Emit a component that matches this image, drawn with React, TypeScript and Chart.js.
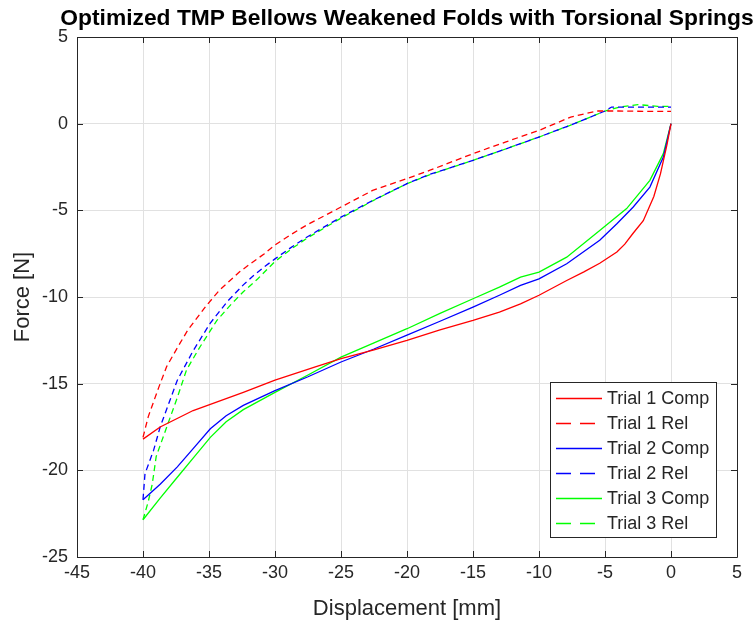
import React, { useEffect, useRef } from "react";
import { Chart, registerables } from "chart.js";

Chart.register(...registerables);

// ---------- Data ----------
const chartTitle = "Optimized TMP Bellows Weakened Folds with Torsional Springs";
const xAxisTitle = "Displacement [mm]";
const yAxisTitle = "Force [N]";

const xMin = -45;
const xMax = 5;
const xStep = 5;
const yMin = -25;
const yMax = 5;
const yStep = 5;

const seriesLabels = ["Trial 1 Comp", "Trial 1 Rel", "Trial 2 Comp", "Trial 2 Rel", "Trial 3 Comp", "Trial 3 Rel"];
const seriesColors = ["#ff0000", "#ff0000", "#0000ff", "#0000ff", "#00ff00", "#00ff00"];
const seriesDashed = [false, true, false, true, false, true];

const t1CompX = [0, -0.3, -0.8, -1.3, -2.1, -2.9, -3.5, -4.1, -5.4, -6.6, -7.9, -10, -11.4, -13, -15, -17.5, -20, -22.5, -25, -27, -30, -32.4, -34.9, -36.2, -38.7, -40];
const t1CompY = [0, -1.2, -2.9, -4.2, -5.6, -6.35, -6.95, -7.4, -8.05, -8.55, -9.05, -9.9, -10.4, -10.87, -11.35, -11.9, -12.5, -13.05, -13.56, -14.05, -14.8, -15.5, -16.2, -16.55, -17.5, -18.2];

const t1RelX = [-40, -39.6, -38.8, -38.2, -37.3, -36.6, -35.2, -34.2, -32.7, -31.9, -30.8, -30, -28.8, -27.6, -25, -22.6, -20, -18.3, -15, -12.5, -10, -7.6, -5.6, -4, -2, 0];
const t1RelY = [-18.1, -16.9, -15.2, -14.0, -12.8, -11.9, -10.5, -9.6, -8.56, -8.1, -7.5, -7.0, -6.4, -5.85, -4.81, -3.85, -3.17, -2.7, -1.73, -1.05, -0.39, 0.38, 0.73, 0.73, 0.71, 0.71];

const t2CompX = [0, -0.58, -1.6, -2.86, -4.1, -5.4, -7.9, -10, -11.4, -13, -15, -17.5, -20, -22.5, -25, -27.5, -30, -32.4, -33.7, -34.9, -36.2, -37.4, -38.7, -40];
const t2CompY = [0, -1.93, -3.66, -4.81, -5.77, -6.73, -8.08, -8.95, -9.33, -9.9, -10.58, -11.4, -12.2, -13.0, -13.75, -14.6, -15.4, -16.25, -16.85, -17.6, -18.75, -19.8, -20.8, -21.7];

const t2RelX = [-40, -39.85, -39.2, -38.7, -37.4, -36.2, -34.9, -33.6, -32.4, -31.6, -30.8, -30, -28.8, -27.6, -25, -22.6, -20, -18.3, -15, -12.5, -10, -7.65, -5, -4.5, -2, 0];
const t2RelY = [-21.7, -20.2, -18.85, -17.5, -14.8, -13.1, -11.5, -10.25, -9.3, -8.75, -8.25, -7.8, -7.15, -6.55, -5.39, -4.43, -3.46, -2.93, -2.12, -1.45, -0.77, -0.1, 0.73, 0.96, 0.96, 0.96];

const t3CompX = [0, -0.58, -1.6, -3.36, -5.4, -7.9, -10, -11.4, -13, -15, -17.5, -20, -22.5, -25, -27.5, -30, -32.4, -33.7, -34.9, -36.2, -37.4, -38.7, -40];
const t3CompY = [0, -1.73, -3.27, -4.9, -6.16, -7.7, -8.56, -8.85, -9.43, -10.1, -10.95, -11.83, -12.65, -13.47, -14.5, -15.5, -16.5, -17.2, -18.1, -19.3, -20.4, -21.6, -22.85];

const t3RelX = [-40, -39.6, -39.3, -39.0, -38.2, -37.4, -36.7, -35.7, -34.4, -33.3, -32.4, -31.3, -30, -28.8, -27.6, -25, -22.6, -20, -18.3, -15, -12.5, -10, -7.65, -5, -3.9, -2.5, -1, 0];
const t3RelY = [-22.85, -21.8, -20.8, -19.2, -17.5, -15.8, -14.2, -12.9, -11.35, -10.4, -9.7, -8.95, -7.95, -7.25, -6.62, -5.45, -4.45, -3.46, -2.95, -2.12, -1.45, -0.77, -0.1, 0.73, 0.96, 1.1, 1.0, 1.0];

const seriesX = [t1CompX, t1RelX, t2CompX, t2RelX, t3CompX, t3RelX];
const seriesY = [t1CompY, t1RelY, t2CompY, t2RelY, t3CompY, t3RelY];

// ---------- Styling ----------
const FONT = '"Liberation Sans", Arial, Helvetica, sans-serif';
const TEXT = "#262626";
const AXIS = "#262626";
const GRID = "#e1e1e1";

const W = 756;
const H = 626;

const titlePlugin = {
  id: "matlabTitle",
  afterDraw(chart: any) {
    const { ctx, chartArea } = chart;
    ctx.save();
    ctx.font = `bold 22.8px ${FONT}`;
    ctx.fillStyle = "#000000";
    ctx.textAlign = "center";
    ctx.textBaseline = "alphabetic";
    ctx.fillText(chartTitle, (chartArea.left + chartArea.right) / 2, chartArea.top - 12);
    ctx.restore();
  },
};

const framePlugin = {
  id: "matlabFrame",
  afterDatasetsDraw(chart: any) {
    const { ctx, chartArea } = chart;
    const xs = chart.scales.x;
    const ys = chart.scales.y;
    const tl = 6;
    ctx.save();
    ctx.strokeStyle = AXIS;
    ctx.lineWidth = 1;
    ctx.beginPath();
    ctx.rect(Math.round(chartArea.left) + 0.5, Math.round(chartArea.top) + 0.5,
      Math.round(chartArea.right - chartArea.left), Math.round(chartArea.bottom - chartArea.top));
    ctx.stroke();
    ctx.beginPath();
    xs.ticks.forEach((t: any) => {
      const px = Math.round(xs.getPixelForValue(t.value)) + 0.5;
      ctx.moveTo(px, chartArea.bottom);
      ctx.lineTo(px, chartArea.bottom - tl);
      ctx.moveTo(px, chartArea.top);
      ctx.lineTo(px, chartArea.top + tl);
    });
    ys.ticks.forEach((t: any) => {
      const py = Math.round(ys.getPixelForValue(t.value)) + 0.5;
      ctx.moveTo(chartArea.left, py);
      ctx.lineTo(chartArea.left + tl, py);
      ctx.moveTo(chartArea.right, py);
      ctx.lineTo(chartArea.right - tl, py);
    });
    ctx.stroke();
    ctx.restore();
  },
};

const legendPlugin = {
  id: "matlabLegend",
  afterDraw(chart: any) {
    const { ctx, chartArea } = chart;
    const ds = chart.data.datasets;
    const boxW = 166;
    const rowH = 25;
    const boxH = 155;
    const right = chartArea.right - 21;
    const bottom = chartArea.bottom - 20;
    const left = right - boxW;
    const top = bottom - boxH;
    ctx.save();
    ctx.fillStyle = "#ffffff";
    ctx.fillRect(left, top, boxW, boxH);
    ctx.strokeStyle = AXIS;
    ctx.lineWidth = 1;
    ctx.strokeRect(Math.round(left) + 0.5, Math.round(top) + 0.5, boxW, boxH);
    ctx.font = `18px ${FONT}`;
    ctx.textAlign = "left";
    ctx.textBaseline = "middle";
    ds.forEach((d: any, i: number) => {
      const cy = Math.round(top + 16 + i * rowH) + 0.5;
      ctx.strokeStyle = d.borderColor;
      ctx.lineWidth = 1.3;
      ctx.setLineDash(d.borderDash && d.borderDash.length ? [15, 9] : []);
      ctx.beginPath();
      ctx.moveTo(left + 6, cy);
      ctx.lineTo(left + 52, cy);
      ctx.stroke();
      ctx.setLineDash([]);
      ctx.fillStyle = TEXT;
      ctx.fillText(d.label, left + 57, cy + 1);
    });
    ctx.restore();
  },
};

export default function App() {
  const canvasRef = useRef<HTMLCanvasElement | null>(null);

  useEffect(() => {
    const canvas = canvasRef.current;
    if (!canvas) return;
    const datasets = seriesLabels.map((label, i) => ({
      label,
      data: seriesX[i].map((x, j) => ({ x, y: seriesY[i][j] })),
      borderColor: seriesColors[i],
      backgroundColor: seriesColors[i],
      borderWidth: 1.3,
      borderDash: seriesDashed[i] ? [6, 4] : [],
      showLine: true,
      pointRadius: 0,
      pointHoverRadius: 0,
      fill: false,
      tension: 0,
    }));

    const chart = new Chart(canvas, {
      type: "scatter",
      data: { datasets },
      options: {
        animation: false,
        responsive: false,
        devicePixelRatio: 1,
        events: [],
        layout: { padding: { top: 37, right: 19, bottom: 0, left: 0 } },
        plugins: {
          legend: { display: false },
          title: { display: false },
          tooltip: { enabled: false },
        },
        scales: {
          x: {
            type: "linear",
            min: xMin,
            max: xMax,
            afterFit: (s: any) => { s.height = 69; },
            ticks: {
              stepSize: xStep,
              color: TEXT,
              font: { family: FONT, size: 18 },
              padding: 5,
              maxRotation: 0,
            },
            grid: { color: GRID, drawTicks: false, lineWidth: 1 },
            border: { display: false },
            title: {
              display: true,
              text: xAxisTitle,
              color: TEXT,
              font: { family: FONT, size: 22 },
              padding: { top: 0, bottom: 4 },
            },
          },
          y: {
            type: "linear",
            min: yMin,
            max: yMax,
            afterFit: (s: any) => { s.width = 77; },
            ticks: {
              stepSize: yStep,
              color: TEXT,
              font: { family: FONT, size: 18 },
              padding: 9,
            },
            grid: { color: GRID, drawTicks: false, lineWidth: 1 },
            border: { display: false },
            title: {
              display: true,
              text: yAxisTitle,
              color: TEXT,
              font: { family: FONT, size: 22 },
              padding: { top: 10, bottom: 0 },
            },
          },
        },
      },
      plugins: [framePlugin, titlePlugin, legendPlugin],
    } as any);

    return () => chart.destroy();
  }, []);

  return (
    <div style={{ position: "fixed", left: 0, top: 0, width: W, height: H, background: "#ffffff" }}>
      <canvas ref={canvasRef} width={W} height={H} style={{ display: "block", width: W, height: H }} />
    </div>
  );
}
